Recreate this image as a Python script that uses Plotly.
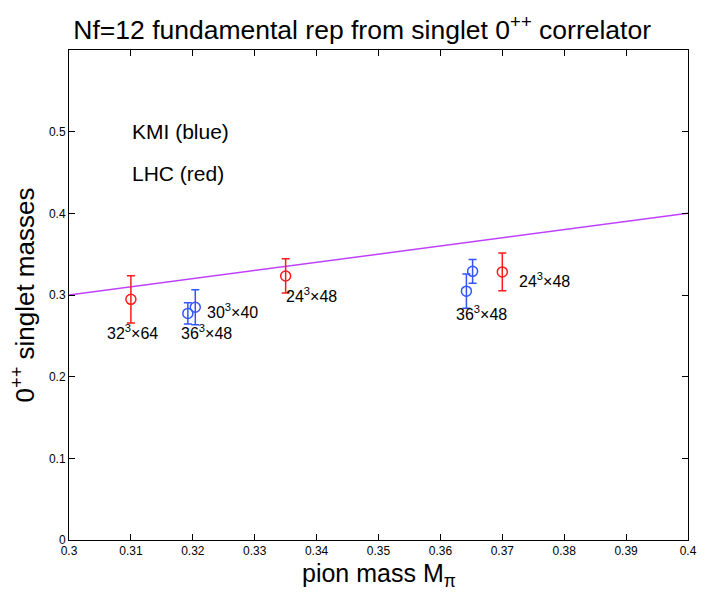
import plotly.graph_objects as go

# KMI (blue) and LHC (red) singlet 0++ masses
kmi_x = [0.3192, 0.3204, 0.3642, 0.3652]
kmi_y = [0.2775, 0.285, 0.3047, 0.329]
kmi_err = [0.013, 0.0215, 0.021, 0.0145]

lhc_x = [0.31, 0.335, 0.37]
lhc_y = [0.2947, 0.3233, 0.3283]
lhc_err = [0.029, 0.021, 0.023]

line_x = [0.3, 0.4]
line_y = [0.3, 0.4]

# volume labels
lab_text = ["32<sup>3</sup>×64", "36<sup>3</sup>×48", "30<sup>3</sup>×40",
            "24<sup>3</sup>×48", "36<sup>3</sup>×48", "24<sup>3</sup>×48"]
lab_x = [0.3103, 0.3222, 0.3264, 0.3392, 0.3666, 0.3768]
lab_y = [0.255, 0.255, 0.281, 0.2995, 0.2775, 0.318]

font = "Liberation Sans, Arial, sans-serif"

fig = go.Figure()
fig.add_trace(go.Scatter(
    x=line_x, y=line_y, mode="lines",
    line=dict(color="#BF40FF", width=1.5), showlegend=False,
))
fig.add_trace(go.Scatter(
    x=lhc_x, y=lhc_y, mode="markers",
    marker=dict(symbol="circle-open", size=10, color="#FF1A1A", line=dict(width=1.5)),
    error_y=dict(type="data", array=lhc_err, color="#FF1A1A", thickness=1.5, width=4),
    showlegend=False,
))
fig.add_trace(go.Scatter(
    x=kmi_x, y=kmi_y, mode="markers",
    marker=dict(symbol="circle-open", size=10, color="#3355FF", line=dict(width=1.5)),
    error_y=dict(type="data", array=kmi_err, color="#3355FF", thickness=1.5, width=4),
    showlegend=False,
))

for t, x, y in zip(lab_text, lab_x, lab_y):
    fig.add_annotation(x=x, y=y, text=t, showarrow=False,
                       font=dict(size=16, color="black", family=font))

fig.add_annotation(x=0.3098, y=0.5, text="KMI (blue)", showarrow=False, xanchor="left",
                   font=dict(size=21, color="black", family=font))
fig.add_annotation(x=0.3098, y=0.449, text="LHC (red)", showarrow=False, xanchor="left",
                   font=dict(size=21, color="black", family=font))

# x axis title sits tight under the tick labels
fig.add_annotation(x=0.5, xref="paper", y=-0.035, yref="paper", yanchor="top",
                   text="pion mass M<sub>π</sub>", showarrow=False,
                   font=dict(size=25, color="black", family=font))

fig.update_layout(
    width=706, height=595,
    margin=dict(l=69, r=9, t=50, b=55),
    plot_bgcolor="white", paper_bgcolor="white",
    font=dict(family=font, color="black"),
    title=dict(text="Nf=12 fundamental rep from singlet 0<sup>++</sup> correlator",
               x=0.513, xanchor="center", y=0.965, yanchor="top",
               font=dict(size=26.5, color="black")),
)
fig.update_xaxes(
    range=[0.3, 0.4], tickvals=[0.3 + i * 0.01 for i in range(11)],
    ticktext=["0.3", "0.31", "0.32", "0.33", "0.34", "0.35", "0.36", "0.37", "0.38", "0.39", "0.4"],
    ticks="inside", ticklen=6, tickcolor="black", showgrid=False, zeroline=False,
    showline=True, linecolor="black", linewidth=1, mirror="ticks",
    tickfont=dict(size=12),
)
fig.update_yaxes(
    range=[0, 0.6], tickvals=[0, 0.1, 0.2, 0.3, 0.4, 0.5],
    ticktext=["0", "0.1", "0.2", "0.3", "0.4", "0.5"],
    ticks="inside", ticklen=6, tickcolor="black", showgrid=False, zeroline=False,
    showline=True, linecolor="black", linewidth=1, mirror="ticks",
    tickfont=dict(size=12),
    title=dict(text="0<sup>++</sup> singlet masses", font=dict(size=26), standoff=6),
)

# drop the default body margin so the 706x595 figure fills the window without scrollbars
fig.write_html("out.html", config={"displayModeBar": False},
               post_script="document.body.style.margin='0';")
